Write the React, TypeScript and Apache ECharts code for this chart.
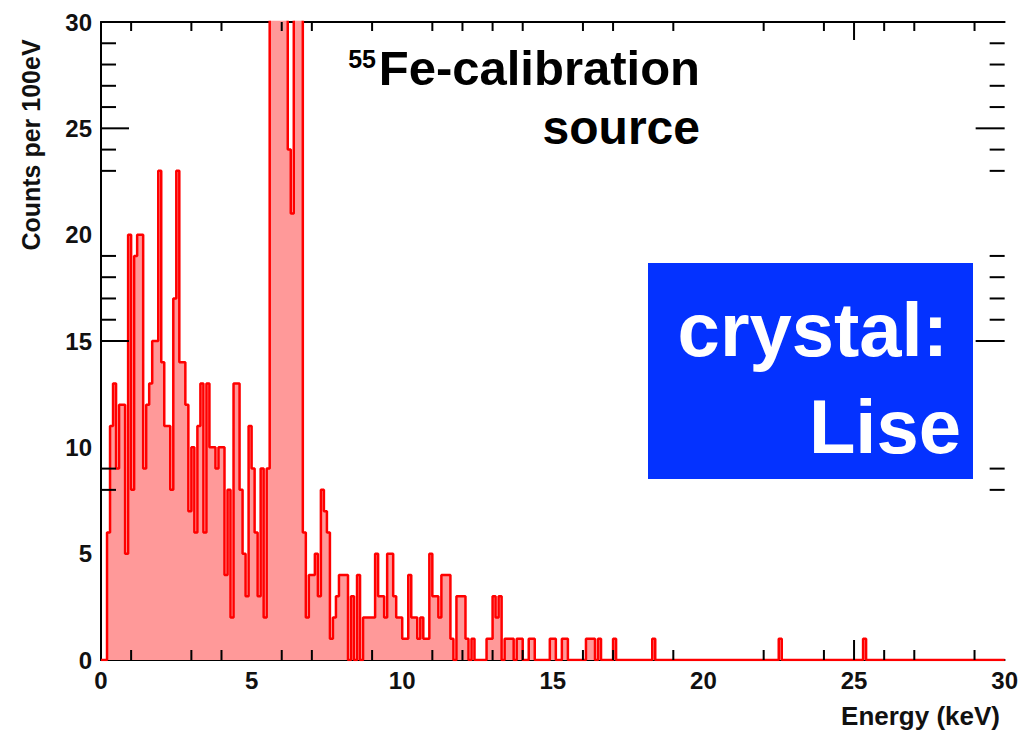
import React, { useEffect, useRef } from "react";
import * as echarts from "echarts";

// Histogram: counts per 0.1 keV bin
const BIN_WIDTH = 0.1; // keV
const N_BINS = 300; // 0 .. 30 keV

// bins 0.0 – 4.9 keV
const countsLow = [
  0, 0, 6, 11, 13, 9, 12, 12, 5, 20,
  8, 19, 20, 20, 9, 12, 13, 15, 15, 23,
  14, 11, 11, 8, 17, 23, 14, 14, 12, 7,
  10, 6, 11, 13, 6, 13, 10, 10, 9, 10,
  10, 4, 8, 2, 13, 13, 8, 5, 3, 11,
];
// bins 5.0 – 9.9 keV (55Fe line, clipped above 30)
const countsMid = [
  9, 6, 3, 9, 2, 9, 36, 48, 62, 75,
  70, 55, 24, 21, 45, 40, 32, 6, 2, 4,
  4, 5, 3, 8, 7, 6, 1, 2, 3, 4,
  4, 4, 0, 3, 0, 4, 0, 2, 2, 2,
  2, 5, 3, 3, 2, 5, 5, 3, 2, 2,
];
// bins 10.0 – 16.9 keV
const countsHigh = [
  1, 1, 4, 2, 2, 1, 2, 1, 1, 5,
  3, 3, 2, 4, 4, 4, 1, 0, 3, 3,
  3, 1, 0, 1, 0, 0, 0, 0, 1, 1,
  3, 2, 3, 0, 1, 1, 1, 0, 1, 1,
  0, 0, 1, 1, 0, 0, 0, 0, 0, 1,
  1, 0, 0, 1, 1, 0, 0, 0, 0, 0,
  0, 1, 1, 1, 0, 1, 0, 0, 0, 0,
];
// isolated hits above 17 keV: [bin start energy (keV), counts]
const tailHits: [number, number][] = [
  [17.0, 1],
  [18.3, 1],
  [22.5, 1],
  [25.3, 1],
];

// visible tick marks (as in the reference)
const xTicksMinor = [1, 3, 4, 6, 7, 9, 11, 12, 13, 14, 16, 17, 19, 22, 24, 26, 27, 29];
const xTicksMajor = [25];
const yTicksMinor = [8, 9, 16, 17, 18, 19, 23, 24, 26, 27, 28, 29];
const yTicksMajor = [15, 25];

const FONT = '"Liberation Sans", Arial, Helvetica, sans-serif';

function buildCounts(): number[] {
  const counts: number[] = [...countsLow, ...countsMid, ...countsHigh];
  while (counts.length < N_BINS) counts.push(0);
  tailHits.forEach(([e, c]) => {
    counts[Math.round(e / BIN_WIDTH)] = c;
  });
  return counts;
}

export default function App() {
  const ref = useRef<HTMLDivElement>(null);

  useEffect(() => {
    if (!ref.current) return;
    const chart = echarts.init(ref.current, undefined, { renderer: "svg" });
    const counts = buildCounts();
    const histData: [number, number][] = counts.map((c, i) => [
      +(i * BIN_WIDTH).toFixed(1),
      c,
    ]);
    histData.push([+(N_BINS * BIN_WIDTH).toFixed(1), counts[N_BINS - 1]]);

    // tick data: [side, value, length]  side: 0 bottom, 1 top, 2 left, 3 right
    const tickData: number[][] = [];
    xTicksMinor.forEach((v) => {
      tickData.push([0, v, 10]);
      tickData.push([1, v, 9]);
    });
    xTicksMajor.forEach((v) => {
      tickData.push([0, v, 20]);
      tickData.push([1, v, 18]);
    });
    yTicksMinor.forEach((v) => {
      tickData.push([2, v, 15]);
      tickData.push([3, v, 15]);
    });
    yTicksMajor.forEach((v) => {
      tickData.push([2, v, 28]);
      tickData.push([3, v, 29]);
    });

    const axisLineStyle = { color: "#000", width: 2 };
    const labelStyle = {
      fontSize: 24,
      fontWeight: "bold" as const,
      fontFamily: FONT,
      color: "#111",
    };

    chart.setOption({
      animation: false,
      backgroundColor: "#fff",
      grid: { left: 101, right: 15, top: 22, bottom: 70, containLabel: false },
      xAxis: [
        {
          type: "value",
          min: 0,
          max: 30,
          interval: 5,
          position: "bottom",
          axisLine: { show: true, onZero: false, lineStyle: axisLineStyle },
          axisTick: { show: false },
          splitLine: { show: false },
          axisLabel: { ...labelStyle, margin: 8 },
        },
        {
          type: "value",
          min: 0,
          max: 30,
          position: "top",
          axisLine: { show: true, onZero: false, lineStyle: axisLineStyle },
          axisTick: { show: false },
          splitLine: { show: false },
          axisLabel: { show: false },
        },
      ],
      yAxis: [
        {
          type: "value",
          min: 0,
          max: 30,
          interval: 5,
          position: "left",
          axisLine: { show: true, onZero: false, lineStyle: axisLineStyle },
          axisTick: { show: false },
          splitLine: { show: false },
          axisLabel: { ...labelStyle, margin: 9 },
        },
      ],
      series: [
        {
          type: "line",
          name: "counts",
          xAxisIndex: 0,
          yAxisIndex: 0,
          data: histData,
          step: "end",
          symbol: "none",
          clip: true,
          z: 2,
          lineStyle: { color: "#ff0000", width: 2.5 },
          areaStyle: { color: "#ff9999", opacity: 1 },
        },
        {
          type: "custom",
          name: "ticks",
          xAxisIndex: 0,
          yAxisIndex: 0,
          z: 5,
          silent: true,
          data: tickData,
          renderItem: (_params: any, api: any) => {
            const side = api.value(0);
            const v = api.value(1);
            const len = api.value(2);
            let x1 = 0,
              y1 = 0,
              x2 = 0,
              y2 = 0;
            if (side === 0) {
              const p = api.coord([v, 0]);
              x1 = x2 = p[0];
              y1 = p[1];
              y2 = p[1] - len;
            } else if (side === 1) {
              const p = api.coord([v, 30]);
              x1 = x2 = p[0];
              y1 = p[1];
              y2 = p[1] + len;
            } else if (side === 2) {
              const p = api.coord([0, v]);
              y1 = y2 = p[1];
              x1 = p[0];
              x2 = p[0] + len;
            } else {
              const p = api.coord([30, v]);
              y1 = y2 = p[1];
              x1 = p[0];
              x2 = p[0] - len;
            }
            return {
              type: "line",
              shape: { x1, y1, x2, y2 },
              style: { stroke: "#000", lineWidth: 2 },
            };
          },
        },
      ],
      graphic: [
        {
          type: "text",
          x: 31,
          y: 145,
          rotation: Math.PI / 2,
          style: {
            text: "Counts per 100eV",
            font: `bold 25px ${FONT}`,
            fill: "#111",
            textAlign: "center",
            textVerticalAlign: "middle",
          },
        },
        {
          type: "text",
          x: 1000,
          y: 716,
          style: {
            text: "Energy (keV)",
            font: `bold 26px ${FONT}`,
            fill: "#111",
            textAlign: "right",
            textVerticalAlign: "middle",
          },
        },
        {
          type: "text",
          x: 376,
          y: 59,
          style: {
            text: "55",
            font: `bold 25px ${FONT}`,
            fill: "#000",
            textAlign: "right",
            textVerticalAlign: "middle",
          },
        },
        {
          type: "text",
          x: 700,
          y: 68,
          style: {
            text: "Fe-calibration",
            font: `bold 49px ${FONT}`,
            fill: "#000",
            textAlign: "right",
            textVerticalAlign: "middle",
          },
        },
        {
          type: "text",
          x: 700,
          y: 127,
          style: {
            text: "source",
            font: `bold 48px ${FONT}`,
            fill: "#000",
            textAlign: "right",
            textVerticalAlign: "middle",
          },
        },
        {
          type: "rect",
          shape: { x: 648, y: 263, width: 325, height: 216 },
          style: { fill: "#0432ff" },
          z: 10,
        },
        {
          type: "text",
          x: 948,
          y: 329,
          z: 11,
          style: {
            text: "crystal:",
            font: `bold 76px ${FONT}`,
            fill: "#fff",
            textAlign: "right",
            textVerticalAlign: "middle",
          },
        },
        {
          type: "text",
          x: 961,
          y: 426,
          z: 11,
          style: {
            text: "Lise",
            font: `bold 76px ${FONT}`,
            fill: "#fff",
            textAlign: "right",
            textVerticalAlign: "middle",
          },
        },
      ],
    });

    return () => {
      chart.dispose();
    };
  }, []);

  return (
    <div
      ref={ref}
      style={{ position: "absolute", left: 0, top: 0, width: 1021, height: 730 }}
    />
  );
}
